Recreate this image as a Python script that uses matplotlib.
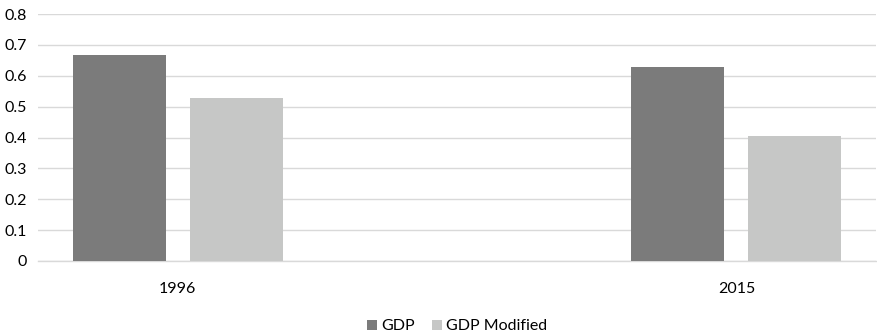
import numpy as np
import matplotlib.pyplot as plt

plt.rcParams['font.family'] = ['Lato', 'DejaVu Sans']

# Data
years = ['1996', '2015']
gdp = [0.667, 0.629]
gdp_modified = [0.528, 0.404]
yticks = [0, 0.1, 0.2, 0.3, 0.4, 0.5, 0.6, 0.7, 0.8]

fig = plt.figure(figsize=(8.77, 3.36), dpi=100)
ax = fig.add_axes([38 / 877, 1 - 261 / 336, 838 / 877, 247 / 336])

x = np.arange(len(years))
w = 0.166
off = 0.1047
ax.bar(x - off, gdp, w, color='#7b7b7b', label='GDP', zorder=3)
ax.bar(x + off, gdp_modified, w, color='#c6c7c6', label='GDP Modified', zorder=3)

ax.set_xlim(-0.25, 1.25)
ax.set_ylim(0, 0.8)
ax.set_xticks(x)
ax.set_xticklabels(years)
ax.set_yticks(yticks)
ax.set_yticklabels(['0' if t == 0 else f'{t:.1f}' for t in yticks])
ax.yaxis.grid(True, color='#d9d9d9', linewidth=1, zorder=0)
ax.set_axisbelow(True)

for s in ['top', 'right', 'left']:
    ax.spines[s].set_visible(False)
ax.spines['bottom'].set_color('#d9d9d9')
ax.spines['bottom'].set_linewidth(1)
ax.tick_params(axis='both', length=0, labelsize=11.5, colors='#000000')
ax.tick_params(axis='x', pad=15)
ax.tick_params(axis='y', pad=8)

ax.legend(loc='center', bbox_to_anchor=(0.5, -0.265), ncol=2, frameon=False,
          fontsize=11.5, handlelength=0.6, handleheight=0.6, handletextpad=0.25,
          columnspacing=1.1)

fig.savefig('out.png', dpi=100)
